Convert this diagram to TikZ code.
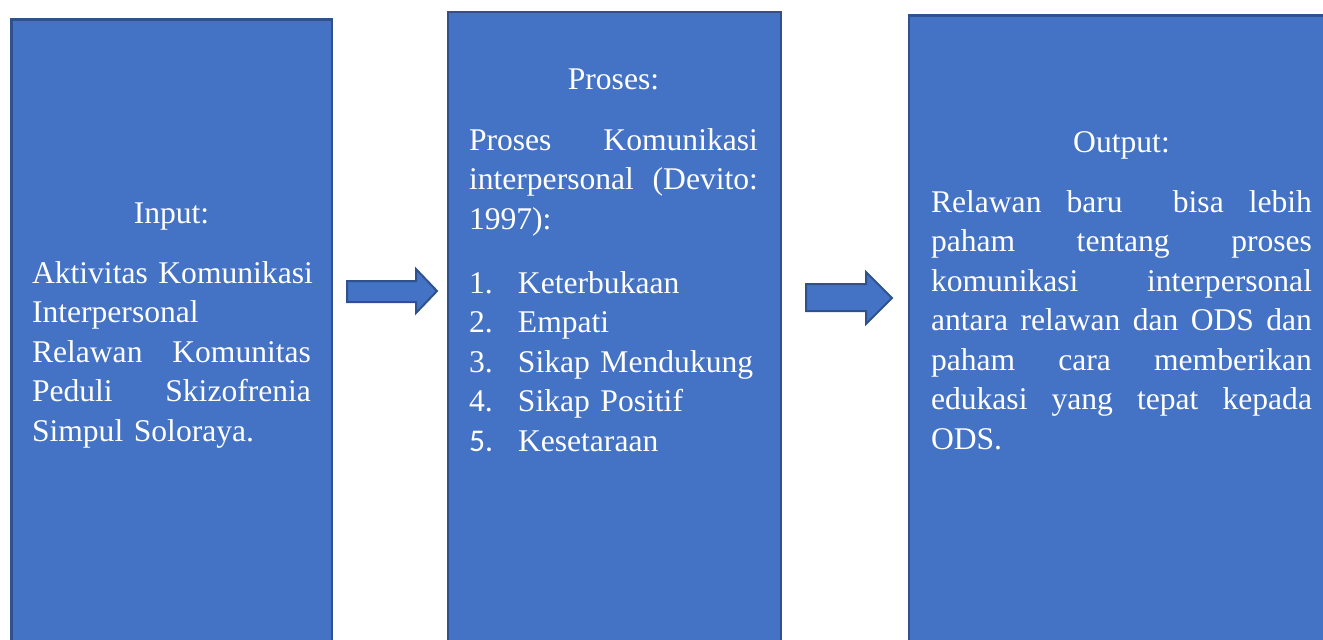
\documentclass[tikz,border=0pt]{standalone}
\usepackage{fontspec}
\setmainfont{Liberation Serif}
\newfontfamily\carl{Carlito}
\definecolor{boxfill}{HTML}{4472C4}
\definecolor{boxline}{HTML}{2F528F}
\newcommand\wgap{\ \hfill}
\begin{document}
\begin{tikzpicture}[x=1pt,y=-1pt,
  panel/.style={draw=boxline,fill=boxfill,line width=2.5pt,rectangle,anchor=north west,outer sep=0pt,inner sep=0pt},
  blockarrow/.style={draw=boxline,fill=boxfill,line width=2pt,line join=miter},
  paneltext/.style={inner sep=0pt,outer sep=0pt,anchor=base west,align=left,text=white,font=\fontsize{31.6}{39.5}\selectfont}]
\useasboundingbox (0,0) rectangle (1323,640);
\clip (0,0) rectangle (1323,640);
% panels
\node[panel,minimum width=320.5pt,minimum height=700pt] (box1) at (11.5,19.5) {};
\node[panel,minimum width=333pt,minimum height=700pt] (box2) at (448,12) {};
\node[panel,minimum width=500pt,minimum height=700pt] (box3) at (909,15.5) {};
% texts
\node[paneltext,text width=279pt] (input) at (32,223) {%
\makebox[279pt][c]{Input:}\\[20.5pt]
\makebox[279pt][l]{Aktivitas\wgap Komunikasi}\\
Interpersonal\\
\makebox[279pt][l]{Relawan\wgap Komunitas}\\
\makebox[279pt][l]{Peduli\wgap Skizofrenia}\\
Simpul Soloraya.};
\node[paneltext,text width=289pt] (proses) at (469,89) {%
\makebox[289pt][c]{Proses:}\\[21.5pt]
\makebox[289pt][l]{Proses\wgap Komunikasi}\\
\makebox[289pt][l]{interpersonal\wgap (Devito:}\\
1997):\\[24.5pt]
\makebox[49pt][l]{1.}Keterbukaan\\
\makebox[49pt][l]{2.}Empati\\
\makebox[49pt][l]{3.}Sikap Mendukung\\
\makebox[49pt][l]{4.}Sikap Positif\\
\makebox[49pt][l]{\carl 5.}Kesetaraan};
\node[paneltext,text width=381pt] (output) at (931,152) {%
\makebox[381pt][c]{Output:}\\[20.5pt]
\makebox[381pt][l]{Relawan\wgap baru\wgap\wgap bisa\wgap lebih}\\
\makebox[381pt][l]{paham\wgap tentang\wgap proses}\\
\makebox[381pt][l]{komunikasi\wgap interpersonal}\\
\makebox[381pt][l]{antara\wgap relawan\wgap dan\wgap ODS\wgap dan}\\
\makebox[381pt][l]{paham\wgap cara\wgap memberikan}\\
\makebox[381pt][l]{edukasi\wgap yang\wgap tepat\wgap kepada}\\
ODS.};
% block arrows
\draw[blockarrow] (347,281) -- (416,281) -- (416,269) -- (437,291) -- (416,313) -- (416,302) -- (347,302) -- cycle;
\draw[blockarrow] (806,284) -- (866,284) -- (866,272) -- (892,298) -- (866,324) -- (866,311) -- (806,311) -- cycle;
\end{tikzpicture}
\end{document}
